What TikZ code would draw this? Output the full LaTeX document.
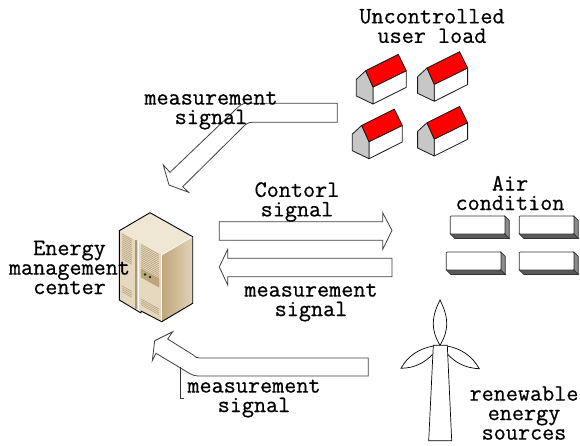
\documentclass[tikz,border=0pt]{standalone}
\usepackage{tikz}
\usepackage{fontspec}
\newfontfamily\lblfont[FakeBold=0.6,BoldFont={*}]{Latin Modern Mono}
\usetikzlibrary{calc}
\definecolor{srvtop}{HTML}{F0E6D4}
\definecolor{srvleft}{HTML}{E6D8BE}
\definecolor{srvright}{HTML}{BFA67A}
\definecolor{srvdark}{HTML}{AD9670}
\tikzset{
  lbl/.style={font=\fontsize{23.5}{19.5}\selectfont\lblfont,align=center,inner sep=0pt,text=black},
  blockarrow/.style={draw=black!75,fill=white,line width=0.8pt,line join=miter},
  hs/.style={draw=black!90,line width=0.8pt,line join=round},
  house/.pic={
    \path[hs,fill=white] (0,0)--(33.3,-16.3)--(33.3,0.3)--(0,17)--cycle;
    \path[hs,fill=black!22] (-16.7,-7.6)--(-7.3,-16.3)--(0,0)--(0,17)--(-16.7,9)--cycle;
    \path[hs,fill=red] (-7.3,-16.3)--(25.3,-32.6)--(33.3,-16.3)--(0,0)--cycle;
  },
  acunit/.pic={
    \path[draw=black!80,fill=black!45,line width=0.7pt] (54.7,0)--(59,4.5)--(59,22.5)--(54.7,18)--cycle;
    \path[draw=black!80,fill=black!65,line width=0.7pt] (0,18)--(54.7,18)--(59,22.5)--(4.5,22.5)--cycle;
    \path[draw=black!80,fill=white,line width=0.8pt,rounded corners=0.8pt] (0,0) rectangle (54.7,18);
  },
  turb/.style={draw=black,line width=0.7pt,fill=white},
}
\begin{document}
\begin{tikzpicture}[x=1pt,y=-1pt]
\useasboundingbox (0,0) rectangle (580,445);
% houses
\pic at (373,87) {house};
\pic at (434.3,84.3) {house};
\pic at (369,141.7) {house};
\pic at (434.3,139) {house};
% top arrow
\path[blockarrow] (337.3,103.3)--(337.3,122.3)--(252.3,122.3) .. controls (248,122.3) and (246,124) .. (243,127)
  --(182.7,186.7)--(188.7,192.3)--(169,185)--(163.3,165)--(170,172.3)--(233.3,111.7) .. controls (240,105) and (242,103.3) .. (247,103.3)--cycle;
% control arrow
\path[blockarrow] (219.3,221.7)--(382.7,221.7)--(382.7,212.7)--(392,230.5)--(382.7,249.3)--(382.7,240.3)--(219.3,240.3)--cycle;
% measurement arrow
\path[blockarrow] (392,258.3)--(227.7,258.3)--(227.7,249.3)--(219.3,266.9)--(227.7,285)--(227.7,276.7)--(392,276.7)--cycle;
% bottom arrow
\path[blockarrow] (368.3,358)--(368.3,376)--(199.3,376) .. controls (195,376) and (192,375) .. (188,372.5)
  --(156,353.3)--(152.3,360.7)--(154.7,340.7)--(172.7,331.7)--(167.7,339)--(193.3,355) .. controls (195,357) and (197,358) .. (199.3,358)--cycle;
\draw[black!80,line width=0.7pt] (184.3,398.3)--(180.3,398.3)--(180.3,367.3);
% server
\shade[left color=srvright,right color=srvtop!70!srvright] (161.7,255)--(192.7,236.7)--(192.7,303.3)--(161.7,321.7)--cycle;
\path[fill=srvtop] (150,212.7)--(192.7,236.7)--(161.7,255)--(119.3,230.7)--cycle;
\path[fill=srvleft] (119.3,230.7)--(161.7,255)--(161.7,321.7)--(119.3,300)--cycle;
\draw[srvdark,line width=1.2pt] (136,239.5)--(136,309);
\draw[white,line width=0.8pt] (138,240.5)--(138,310);
\foreach \i in {0,...,13}{
  \draw[srvdark,line width=0.45pt] (122,{234+1.9*\i})--(132,{239.5+1.9*\i});
  \draw[srvdark,line width=0.45pt] (141,{244.5+1.9*\i})--(159,{254.5+1.9*\i});
}
\foreach \i in {0,...,3}{
  \draw[srvdark,line width=0.45pt] (122,{286+1.9*\i})--(132,{291.5+1.9*\i});
  \draw[srvdark,line width=0.45pt] (141,{299+1.9*\i})--(159,{309+1.9*\i});
}
\path[fill=srvright,draw=srvdark,line width=0.4pt] (141,269)--(159,279)--(159,287)--(141,277)--cycle;
\fill[black!75!green] (145,274.5) circle (1.4);
\fill[black!75!green] (150,277) circle (1.4);
\draw[black,line width=0.9pt,line join=round] (150,212.7)--(192.7,236.7)--(192.7,303.3)--(161.7,321.7)--(141,311)--(141,313)--(119.3,300)--(119.3,230.7)--cycle;
\draw[white,line width=0.6pt] (161.7,255)--(161.7,321);
\draw[white,line width=0.6pt] (161.7,255)--(192,237);
% AC units
\pic at (450.3,216) {acunit};
\pic at (519.3,216) {acunit};
\pic at (446.3,252) {acunit};
\pic at (519.3,252) {acunit};
% turbine
\path[turb] (440,300) .. controls (431,318) and (431,330) .. (440,345.3) .. controls (449,330) and (449,318) .. (440,300)--cycle;
\path[turb] (433.3,346) .. controls (418,349) and (408,356) .. (401,368.3) .. controls (416,368) and (425,362) .. (432.7,354.3);
\path[turb] (447.3,346) .. controls (462,349) and (472,356) .. (479.3,368.7) .. controls (464,368) and (455,362) .. (447.7,354.3);
\path[turb] (433.3,345.3)--(447.3,345.3)--(451.7,440.7)--(428.7,440.7)--cycle;
% labels
\node[lbl] (load) at (432,26) {Uncontrolled\\user load};
\node[lbl] (m1) at (211,110.5) {measurement\\signal};
\node[lbl] (ctrl) at (297,202) {Contorl\\signal};
\node[lbl] (ems) at (69.5,267.5) {Energy\\management\\center};
\node[lbl] (m2) at (311,302.5) {measurement\\signal};
\node[lbl] (m3) at (254,398.5) {measurement\\signal};
\node[lbl] (air) at (510,193) {Air\\condition};
\node[lbl] (res) at (524,413) {renewable\\energy\\sources};
\end{tikzpicture}
\end{document}
